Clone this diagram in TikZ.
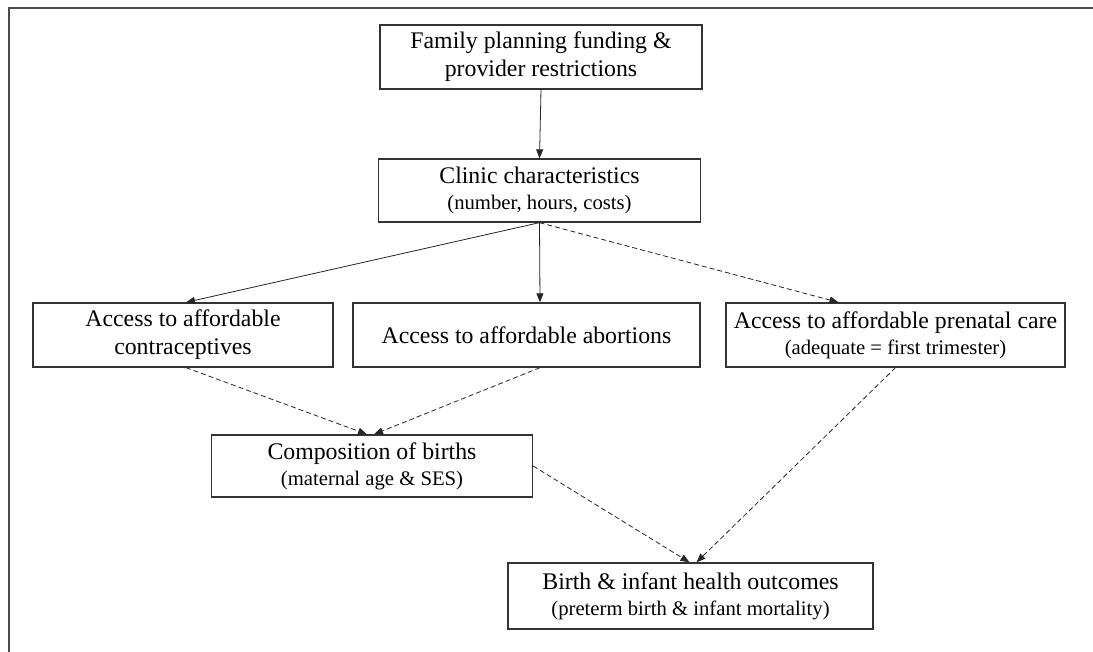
\documentclass[tikz,border=0pt]{standalone}
\usepackage{fontspec}
\setmainfont{Liberation Serif}
\usetikzlibrary{arrows.meta,calc}
\newcommand{\mainsz}{\fontsize{23.8}{28}\selectfont}
\newcommand{\subsz}{\fontsize{20.7}{26}\selectfont}
\tikzset{
  box/.style={draw=black!80, line width=1.3pt, rectangle, inner sep=0pt, align=center, font=\mainsz},
  conn/.style={draw=black!85, line width=0.8pt, -{Triangle[length=9pt,width=7pt]}},
  dconn/.style={conn, dash pattern=on 5pt off 3pt},
  frame/.style={draw=black!70, line width=2pt}
}
\begin{document}
\begin{tikzpicture}[x=1pt,y=-1pt]
\useasboundingbox (0,0) rectangle (1093,652);
\fill[white] (0,0) rectangle (1093,652);
\draw[frame] (9,652) -- (9,8) -- (1093,8);

\node[box, minimum width=322pt, minimum height=64pt] (b1) at (541,57) {Family planning funding \&\\provider restrictions};
\node[box, minimum width=322pt, minimum height=63pt] (b2) at (539.5,190.5) {Clinic characteristics\\[-2pt]{\subsz(number, hours, costs)}};
\node[box, minimum width=300pt, minimum height=64pt] (b3) at (183,335) {Access to affordable\\contraceptives};
\node[box, minimum width=347pt, minimum height=64pt] (b4) at (526.5,335) {Access to affordable abortions};
\node[box, minimum width=339pt, minimum height=64pt] (b5) at (895.5,335) {Access to affordable prenatal care\\[-2pt]{\subsz(adequate = first trimester)}};
\node[box, minimum width=321pt, minimum height=62pt] (b6) at (372,466) {Composition of births\\[-2pt]{\subsz(maternal age \& SES)}};
\node[box, minimum width=365pt, minimum height=66pt] (b7) at (690.5,596) {Birth \& infant health outcomes\\[-2pt]{\subsz(preterm birth \& infant mortality)}};

\draw[conn] (b1.south) -- (b2.north);
\draw[conn] (b2.south) -- ([xshift=3pt]b3.north);
\draw[conn] (b2.south) -- ([xshift=13.5pt]b4.north);
\draw[dconn] (b2.south) -- ([xshift=-57pt]b5.north);
\draw[dconn] ([xshift=3pt]b3.south) -- ([xshift=-5pt]b6.north);
\draw[dconn] ([xshift=13.5pt]b4.south) -- ([xshift=2pt]b6.north);
\draw[dconn] (b6.east) -- ([xshift=-1pt]b7.north);
\draw[dconn] (b5.south) -- ([xshift=6pt]b7.north);
\end{tikzpicture}
\end{document}
